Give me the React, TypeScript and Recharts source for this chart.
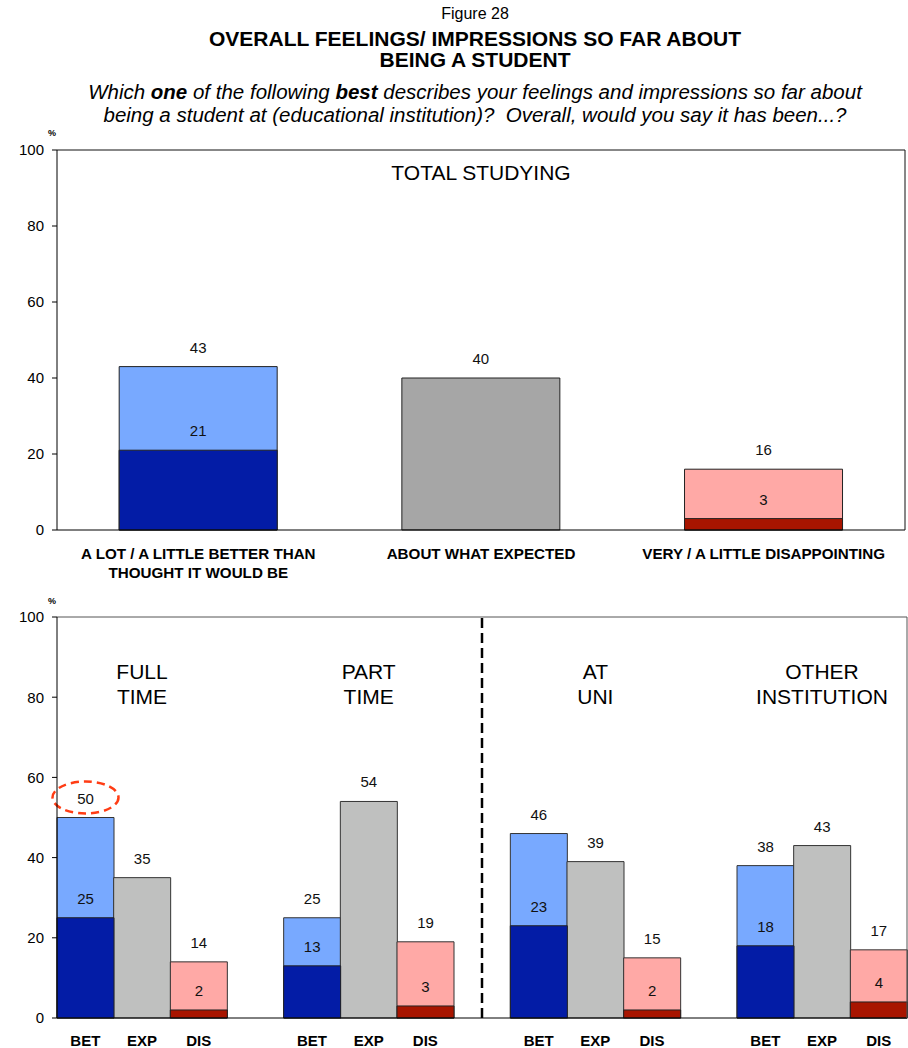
import React from 'react';
import { BarChart, Bar, XAxis, YAxis, Cell, LabelList, ReferenceLine, Rectangle } from 'recharts';

const FONT = '"Liberation Sans", Arial, Helvetica, sans-serif';

// ---- Total studying ----
const totalCategories = [
  'A LOT / A LITTLE BETTER THAN\nTHOUGHT IT WOULD BE',
  'ABOUT WHAT EXPECTED',
  'VERY / A LITTLE DISAPPOINTING',
];
const totalKinds = ['bet', 'exp', 'dis'];
const totalOverall = [43, 40, 16];
const totalStrong = [21, null, 3];

// ---- Breakdown by study mode and institution ----
const groupIds = ['FT', 'PT', 'UNI', 'OTH'];
const groupNames = ['FULL\nTIME', 'PART\nTIME', 'AT\nUNI', 'OTHER\nINSTITUTION'];
const responseCodes = ['BET', 'EXP', 'DIS'];
const betOverall = [50, 25, 46, 38];
const betStrong = [25, 13, 23, 18];
const expOverall = [35, 54, 39, 43];
const disOverall = [14, 19, 15, 17];
const disStrong = [2, 3, 2, 4];

const yTicks = [0, 20, 40, 60, 80, 100];
const highlightedKey = 'FT-BET';
const dividerKey = 'PT-gap';

const topLight: Record<string, string> = { bet: '#78a9ff', exp: '#a6a6a6', dis: '#ffa9a6' };
const bottomLight: Record<string, string> = { bet: '#78a9ff', exp: '#bfc0bf', dis: '#ffa9a6' };
const darkFill: Record<string, string> = { bet: '#031ca6', exp: '#031ca6', dis: '#a81500' };

type Row = {
  key: string;
  code: string;
  kind: string;
  overall: number | null;
  strong: number | null;
  group: string | null;
};

const totalRows: Row[] = totalCategories.map((c, i) => ({
  key: c,
  code: c,
  kind: totalKinds[i],
  overall: totalOverall[i],
  strong: totalStrong[i],
  group: i === 1 ? 'TOTAL STUDYING' : null,
}));

const groupRows: Row[] = groupIds.flatMap((g, i) => {
  const overall = [betOverall[i], expOverall[i], disOverall[i]];
  const strong = [betStrong[i], null, disStrong[i]];
  const rows: Row[] = responseCodes.map((code, j) => ({
    key: `${g}-${code}`,
    code,
    kind: totalKinds[j],
    overall: overall[j],
    strong: strong[j],
    group: j === 1 ? groupNames[i] : null,
  }));
  if (i < groupIds.length - 1) {
    rows.push({ key: `${g}-gap`, code: '', kind: 'gap', overall: null, strong: null, group: null });
  }
  return rows;
});

const totalByKey = Object.fromEntries(totalRows.map((r) => [r.key, r]));
const groupByKey = Object.fromEntries(groupRows.map((r) => [r.key, r]));

const ValueLabel = (props: any) => {
  const { value } = props;
  if (value === null || value === undefined || value === '') return null;
  const vb = props.viewBox || {};
  const x = Number(props.x ?? vb.x);
  const y = Number(props.y ?? vb.y);
  const w = Number(props.width ?? vb.width);
  return (
    <text x={x + w / 2} y={y - 14} textAnchor="middle" fontSize={15} fontFamily={FONT} fill="#111">
      {value}
    </text>
  );
};

const OverallShape = (props: any) => {
  const { x, y, width, payload } = props;
  return (
    <g>
      <Rectangle {...props} />
      {payload && payload.key === highlightedKey ? (
        <ellipse
          cx={x + width / 2}
          cy={y - 20}
          rx={33}
          ry={16}
          fill="none"
          stroke="#ff3c14"
          strokeWidth={2.5}
          strokeDasharray="8 5"
        />
      ) : null}
    </g>
  );
};

const TotalTick = (props: any) => {
  const { x, y, payload } = props;
  const row = totalByKey[payload.value];
  if (!row) return null;
  const lines = row.code.split('\n');
  return (
    <g>
      {lines.map((ln: string, i: number) => (
        <text
          key={i}
          x={x}
          y={y + 28.5 + i * 19}
          textAnchor="middle"
          fontSize={15.2}
          fontWeight="bold"
          fontFamily={FONT}
          fill="#000"
        >
          {ln}
        </text>
      ))}
    </g>
  );
};

const CodeTick = (props: any) => {
  const { x, y, payload } = props;
  const row = groupByKey[payload.value];
  if (!row || !row.code) return null;
  return (
    <text x={x} y={y + 27.5} textAnchor="middle" fontSize={15} fontWeight="bold" fontFamily={FONT} fill="#000">
      {row.code}
    </text>
  );
};

const makeGroupTick = (lookup: Record<string, Row>, firstDy: number, step: number) => (props: any) => {
  const { x, y, payload } = props;
  const row = lookup[payload.value];
  if (!row || !row.group) return null;
  return (
    <g>
      {row.group.split('\n').map((ln: string, i: number) => (
        <text key={i} x={x} y={y + firstDy + i * step} textAnchor="middle" fontSize={21} fontFamily={FONT} fill="#000">
          {ln}
        </text>
      ))}
    </g>
  );
};

const TotalHeading = makeGroupTick(totalByKey, 30, 26);
const GroupHeading = makeGroupTick(groupByKey, 61.5, 25.7);

const tickStyle = { fontSize: 15, fill: '#000', fontFamily: FONT };

function TotalChart() {
  return (
    <BarChart
      width={908}
      height={590}
      data={totalRows}
      margin={{ top: 149, right: 2, left: 12, bottom: 0 }}
      barCategoryGap="22%"
      barGap={0}
    >
      <XAxis
        dataKey="key"
        height={60}
        interval={0}
        tickLine={false}
        tickSize={0}
        tickMargin={0}
        tick={<TotalTick />}
        axisLine={{ stroke: '#000', strokeWidth: 1 }}
      />
      <XAxis
        xAxisId="inner"
        dataKey="key"
        orientation="top"
        height={1}
        interval={0}
        tickLine={false}
        tickSize={0}
        tickMargin={0}
        tick={<TotalHeading />}
        axisLine={{ stroke: '#111', strokeWidth: 1 }}
      />
      <YAxis
        domain={[0, 100]}
        ticks={yTicks}
        width={45}
        tickSize={5}
        tickMargin={8}
        tick={tickStyle}
        axisLine={{ stroke: '#000' }}
        tickLine={{ stroke: '#000' }}
      />
      <YAxis
        yAxisId="frame"
        orientation="right"
        domain={[0, 100]}
        width={1}
        tick={false}
        tickLine={false}
        axisLine={{ stroke: '#111', strokeWidth: 1 }}
      />
      <Bar dataKey="overall" isAnimationActive={false} stroke="#222" strokeWidth={1}>
        {totalRows.map((r) => (
          <Cell key={r.key} fill={topLight[r.kind]} />
        ))}
        <LabelList dataKey="overall" content={ValueLabel} />
      </Bar>
      <Bar dataKey="strong" xAxisId="inner" isAnimationActive={false} stroke="#222" strokeWidth={1}>
        {totalRows.map((r) => (
          <Cell key={r.key} fill={darkFill[r.kind]} />
        ))}
        <LabelList dataKey="strong" content={ValueLabel} />
      </Bar>
    </BarChart>
  );
}

function BreakdownChart() {
  return (
    <BarChart
      width={908}
      height={458}
      data={groupRows}
      margin={{ top: 26, right: 0, left: 12, bottom: 0 }}
      barCategoryGap={0}
      barGap={0}
    >
      <XAxis
        dataKey="key"
        height={30}
        interval={0}
        tickLine={false}
        tickSize={0}
        tickMargin={0}
        tick={<CodeTick />}
        axisLine={{ stroke: '#000', strokeWidth: 1 }}
      />
      <XAxis
        xAxisId="inner"
        dataKey="key"
        orientation="top"
        height={1}
        interval={0}
        tickLine={false}
        tickSize={0}
        tickMargin={0}
        tick={<GroupHeading />}
        axisLine={{ stroke: '#555', strokeWidth: 1 }}
      />
      <YAxis
        domain={[0, 100]}
        ticks={yTicks}
        width={45}
        tickSize={5}
        tickMargin={8}
        tick={tickStyle}
        axisLine={{ stroke: '#000' }}
        tickLine={{ stroke: '#000' }}
      />
      <YAxis
        yAxisId="frame"
        orientation="right"
        domain={[0, 100]}
        width={1}
        tick={false}
        tickLine={false}
        axisLine={{ stroke: '#555', strokeWidth: 1 }}
      />
      <ReferenceLine x={dividerKey} stroke="#000" strokeWidth={2.5} strokeDasharray="10 5" />
      <Bar dataKey="overall" isAnimationActive={false} stroke="#333" strokeWidth={1} shape={<OverallShape />}>
        {groupRows.map((r) => (
          <Cell key={r.key} fill={bottomLight[r.kind] || 'none'} />
        ))}
        <LabelList dataKey="overall" content={ValueLabel} />
      </Bar>
      <Bar dataKey="strong" xAxisId="inner" isAnimationActive={false} stroke="#222" strokeWidth={1}>
        {groupRows.map((r) => (
          <Cell key={r.key} fill={darkFill[r.kind] || 'none'} />
        ))}
        <LabelList dataKey="strong" content={ValueLabel} />
      </Bar>
    </BarChart>
  );
}

const line = (top: number, size: number, lh: number, extra: React.CSSProperties = {}): React.CSSProperties => ({
  position: 'absolute',
  left: 0,
  width: 950,
  top,
  textAlign: 'center',
  fontSize: size,
  lineHeight: `${lh}px`,
  whiteSpace: 'nowrap',
  ...extra,
});

export default function App() {
  return (
    <div
      style={{
        position: 'absolute',
        left: 0,
        top: 0,
        width: 908,
        height: 1048,
        background: '#fff',
        color: '#000',
        fontFamily: FONT,
        overflow: 'hidden',
      }}
    >
      <div style={line(5, 16, 18)}>Figure 28</div>
      <div style={line(28, 21, 22, { fontWeight: 'bold' })}>OVERALL FEELINGS/ IMPRESSIONS SO FAR ABOUT</div>
      <div style={line(49, 21, 22, { fontWeight: 'bold' })}>BEING A STUDENT</div>
      <div style={line(80, 20.5, 23, { fontStyle: 'italic' })}>
        Which <b>one</b> of the following <b>best</b> describes your feelings and impressions so far about
      </div>
      <div style={line(103, 20.5, 23, { fontStyle: 'italic', whiteSpace: 'pre' })}>
        {'being a student at (educational institution)?  Overall, would you say it has been...?'}
      </div>
      <div style={{ position: 'absolute', left: 0, top: 0 }}>
        <TotalChart />
      </div>
      <div style={{ position: 'absolute', left: 0, top: 590 }}>
        <BreakdownChart />
      </div>
      <div style={{ position: 'absolute', left: 48, top: 128, fontSize: 9, fontWeight: 'bold' }}>%</div>
      <div style={{ position: 'absolute', left: 48, top: 596, fontSize: 9, fontWeight: 'bold' }}>%</div>
    </div>
  );
}
